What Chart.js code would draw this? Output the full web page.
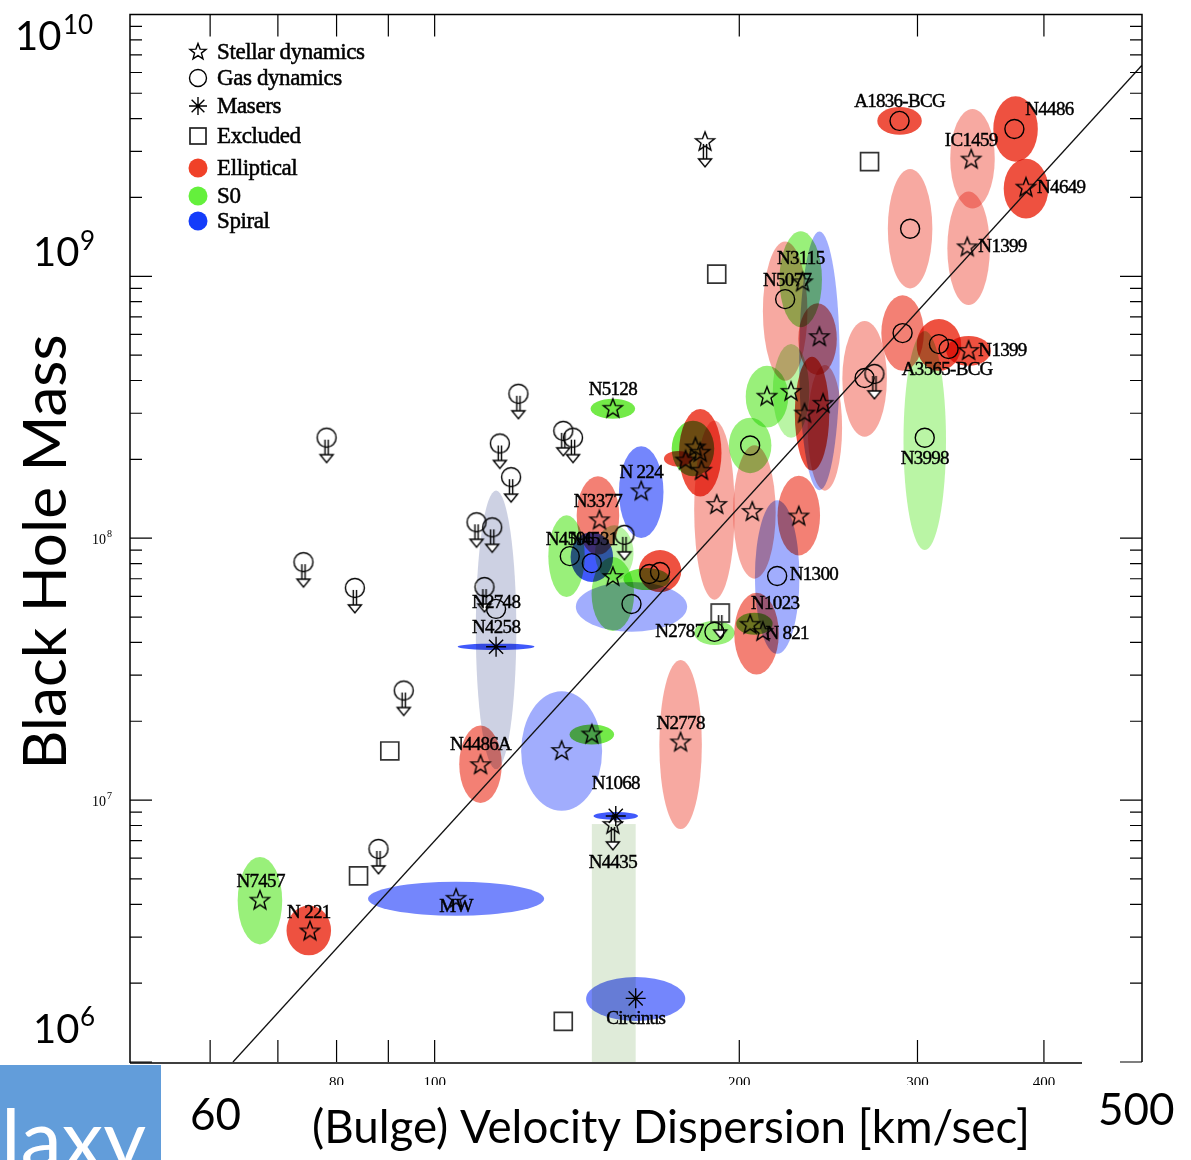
<!DOCTYPE html>
<html>
<head>
<meta charset="utf-8">
<script src="https://cdn.jsdelivr.net/npm/chart.js@4"></script>
<style>
  html, body { margin: 0; padding: 0; background: #fff; }
  #wrap { position: relative; width: 1191px; height: 1160px; }
</style>
</head>
<body>
<div id="wrap"><canvas id="chart"></canvas></div>
<script>
// Axis ranges and ticks
const sigmaRange = [50, 500];
const massRange = [1e6, 1e10];
const sigmaTicks = [60, 70, 80, 90, 100, 200, 300, 400];
const sigmaTickLabels = [80, 100, 200, 300, 400];
const massDecades = [1e6, 1e7, 1e8, 1e9, 1e10];

// M-sigma fit line (end points)
const fitSigma = [63.2, 500];
const fitMass = [1.0e6, 6.4e9];

// Error ellipses: [sigma, mass, half width (dex), half height (dex)]
const ellipticalErr = [
  [288, 3.92e9, .022, .053], [375, 3.65e9, .022, .125], [340, 2.81e9, .022, .19],
  [384, 2.16e9, .022, .114], [295, 1.52e9, .022, .228], [337, 1.28e9, .021, .217],
  [290, 6.07e8, .021, .144], [315, 5.47e8, .022, .099], [337, 5.19e8, .022, .057],
  [266, 4.06e8, .022, .221], [222, 7.36e8, .022, .266], [239, 5.76e8, .019, .137],
  [236, 2.99e8, .017, .217], [243, 2.64e8, .017, .24], [207, 1.26e8, .021, .255],
  [189, 1.28e8, .020, .342], [229, 1.22e8, .021, .152], [183, 2.12e8, .021, .167],
  [174, 2.01e8, .014, .030], [145, 1.22e8, .021, .15], [167, 7.49e7, .021, .080],
  [208, 4.32e7, .022, .156], [175, 1.63e7, .021, .323], [111, 1.37e7, .021, .148],
  [75.1, 3.18e6, .022, .095]
];
const ellipticalShade = ['S','S','L','S','L','L','M','S','S','L','L','M','S','L','L','L','M','S','S','M','S','M','L','M','S'];

const s0Err = [
  [305, 2.36e8, .021, .418], [230, 9.74e8, .021, .183], [225, 3.65e8, .018, .179],
  [213, 3.47e8, .021, .118], [205, 2.26e8, .021, .106], [180, 2.20e8, .021, .106],
  [150, 3.12e8, .022, .038], [135, 8.54e7, .018, .156], [150.5, 8.77e7, .019, .106],
  [150, 6.12e7, .021, .141], [162, 6.98e7, .023, .042], [189, 4.35e7, .020, .046],
  [207, 4.71e7, .018, .042], [143, 1.78e7, .022, .038], [67.2, 4.13e6, .022, .167]
];
const s0Shade = ['L','M','L','M','M','S','S','M','L','M','S','M','S','S','M'];

const spiralErr = [
  [240, 4.75e8, .020, .494], [218, 7.11e7, .022, .293], [160, 1.50e8, .022, .175],
  [143, 8.47e7, .021, .095], [156.5, 5.47e7, .055, .095], [115, 3.85e7, .038, .012],
  [133.5, 1.54e7, .040, .228], [151, 8.70e6, .022, .015], [158, 1.74e6, .049, .084],
  [105, 4.20e6, .087, .065]
];
const spiralShade = ['L','L','M','S','L','S','L','S','M','M'];

// N2748 (grey) error ellipse and N4435 range band
const greyErr = [[115, 4.47e7, .020, .532]];
const n4435Sigma = [143, 158];
const n4435Mass = [1e6, 8.1e6];

// Measurements
const starSigma = [339, 384, 336, 337, 240, 225, 213, 232, 242, 190, 206, 229, 181, 177, 183, 183.5,
  150, 160, 145.5, 150, 205, 211, 175, 133.5, 143, 111, 105, 67.2, 75.3, 231];
const starMass = [2.79e9, 2.18e9, 1.29e9, 5.19e8, 5.86e8, 3.62e8, 3.47e8, 2.99e8, 3.26e8, 1.34e8, 1.26e8,
  1.21e8, 2.22e8, 1.98e8, 2.12e8, 1.81e8, 3.12e8, 1.51e8, 1.17e8, 7.11e7, 4.67e7, 4.39e7, 1.66e7, 1.54e7,
  1.78e7, 1.36e7, 4.20e6, 4.13e6, 3.15e6, 9.49e8];
const starLimitSigma = [185, 150];
const starLimitMass = [3.26e9, 8.04e6];

const gasSigma = [288, 374, 295, 290, 315, 322, 305, 266, 222, 205, 218, 143, 136, 156.5, 167, 163, 189, 115];
const gasMass = [3.92e9, 3.65e9, 1.52e9, 6.07e8, 5.51e8, 5.28e8, 2.42e8, 4.09e8, 8.18e8, 2.26e8, 7.17e7,
  8.03e7, 8.54e7, 5.61e7, 7.43e7, 7.30e7, 4.39e7, 5.37e7];
const gasLimitSigma = [121, 78.2, 116, 119, 110, 114, 74.2, 83.4, 112, 134, 137, 154, 93.2, 88, 272];
const gasLimitMass = [3.56e8, 2.42e8, 2.30e8, 1.71e8, 1.15e8, 1.10e8, 8.10e7, 6.46e7, 6.51e7, 2.57e8,
  2.42e8, 1.03e8, 2.62e7, 6.51e6, 4.24e8];

const maserSigma = [115, 151, 158];
const maserMass = [3.85e7, 8.70e6, 1.75e6];

const excludedSigma = [269, 190, 90.3, 84.1, 134];
const excludedMass = [2.74e9, 1.02e9, 1.54e7, 5.14e6, 1.43e6];
const excludedLimitSigma = [191.5];
const excludedLimitMass = [5.18e7];

// Galaxy name labels
const labelNames = ['A1836-BCG', 'N4486', 'IC1459', 'N4649', 'N1399', 'N1399', 'A3565-BCG', 'N3998', 'N3115',
  'N5077', 'N5128', 'N 224', 'N3377', 'N4596', 'N4531', 'N2748', 'N4258', 'N1300', 'N1023', 'N 821', 'N2787',
  'N2778', 'N4486A', 'N1068', 'N4435', 'Circinus', 'MW', 'N7457', 'N 221'];
const labelSigma = [288, 405, 339, 416, 364, 364, 321, 305, 230, 223, 150, 160, 145, 136, 143.5, 115, 115,
  237, 217, 223, 174.5, 175, 111, 151, 150, 158, 105, 67.3, 75.1];
const labelMass = [4.63e9, 4.31e9, 3.29e9, 2.18e9, 1.29e9, 5.19e8, 4.39e8, 2.01e8, 1.16e9, 9.57e8, 3.69e8,
  1.78e8, 1.37e8, 9.83e7, 9.83e7, 5.66e7, 4.55e7, 7.23e7, 5.61e7, 4.32e7, 4.39e7, 1.96e7, 1.62e7, 1.15e7,
  5.76e6, 1.46e6, 3.92e6, 4.88e6, 3.72e6];

const legendLabels = ['Stellar dynamics', 'Gas dynamics', 'Masers', 'Excluded', 'Elliptical', 'S0', 'Spiral'];

// styling
const TYPE_RGB = { E: 'rgb(235,50,30)', S0: 'rgb(90,230,40)', S: 'rgb(30,60,250)' };
const SHADE_ALPHA = { L: 0.42, M: 0.62, S: 0.85 };
const SERIF = '"Liberation Serif", "DejaVu Serif", serif';
const SANS = 'Lato, "Open Sans", sans-serif';

const zip = (xs, ys) => xs.map((x, i) => ({ x, y: ys[i] }));

// marker drawing helpers
function starPath(g, cx, cy, R, r) {
  g.beginPath();
  for (let i = 0; i < 10; i++) {
    const a = -Math.PI / 2 + i * Math.PI / 5;
    const rad = i % 2 ? r : R;
    const px = cx + rad * Math.cos(a), py = cy + rad * Math.sin(a);
    i ? g.lineTo(px, py) : g.moveTo(px, py);
  }
  g.closePath();
}

function arrowBelow(g, cx, cy) {
  g.beginPath();
  g.moveTo(cx - 1.6, cy + 2); g.lineTo(cx - 1.6, cy + 17);
  g.moveTo(cx + 1.6, cy + 2); g.lineTo(cx + 1.6, cy + 17);
  g.stroke();
  g.beginPath();
  g.moveTo(cx - 6.5, cy + 17); g.lineTo(cx + 6.5, cy + 17); g.lineTo(cx, cy + 25); g.closePath();
  g.fillStyle = '#fff'; g.fill(); g.stroke();
}

function makeMarker(w, h, draw) {
  const c = document.createElement('canvas');
  c.width = w; c.height = h;
  const g = c.getContext('2d');
  g.strokeStyle = '#000'; g.lineWidth = 1.4; g.lineJoin = 'miter';
  draw(g, w / 2, h / 2);
  return c;
}

const starImg = makeMarker(26, 26, (g, cx, cy) => { starPath(g, cx, cy, 10, 4.2); g.stroke(); });
const starLimitImg = makeMarker(26, 58, (g, cx, cy) => { arrowBelow(g, cx, cy); starPath(g, cx, cy, 10, 4.2); g.stroke(); });
const gasLimitImg = makeMarker(26, 58, (g, cx, cy) => {
  arrowBelow(g, cx, cy);
  g.beginPath(); g.arc(cx, cy, 9.5, 0, Math.PI * 2); g.stroke();
});
const excludedLimitImg = makeMarker(26, 58, (g, cx, cy) => {
  arrowBelow(g, cx, cy);
  g.strokeStyle = '#333'; g.lineWidth = 1.7;
  g.strokeRect(cx - 9, cy - 9, 18, 18);
});

function drawEllipses(ctx, xs, ys, list, shades, color) {
  list.forEach((e, i) => {
    const [s, m, ds, dm] = e;
    const cx = xs.getPixelForValue(s), cy = ys.getPixelForValue(m);
    const rx = (xs.getPixelForValue(s * Math.pow(10, ds)) - xs.getPixelForValue(s / Math.pow(10, ds))) / 2;
    const ry = (ys.getPixelForValue(m / Math.pow(10, dm)) - ys.getPixelForValue(m * Math.pow(10, dm))) / 2;
    ctx.globalAlpha = shades ? SHADE_ALPHA[shades[i]] : 1;
    ctx.fillStyle = color;
    ctx.beginPath();
    ctx.ellipse(cx, cy, rx, ry, 0, 0, Math.PI * 2);
    ctx.fill();
  });
}

function fitSize(ctx, text, family, width) {
  ctx.font = '100px ' + family;
  return 100 * width / ctx.measureText(text).width;
}

// text with a thin outline so the serif type looks as heavy as the scanned figure
function heavyText(ctx, t, x, y) {
  ctx.fillText(t, x, y);
  ctx.strokeText(t, x, y);
}

const figurePlugin = {
  id: 'figure',
  beforeDraw(chart) {
    const ctx = chart.ctx;
    ctx.save();
    ctx.fillStyle = '#fff';
    ctx.fillRect(0, 0, chart.width, chart.height);
    ctx.restore();
  },
  beforeDatasetsDraw(chart) {
    const { ctx, chartArea: a } = chart;
    const xs = chart.scales.x, ys = chart.scales.y;
    ctx.save();
    ctx.beginPath(); ctx.rect(a.left, a.top, a.right - a.left, a.bottom - a.top); ctx.clip();
    // N4435 range band
    const bx0 = xs.getPixelForValue(n4435Sigma[0]), bx1 = xs.getPixelForValue(n4435Sigma[1]);
    const by0 = ys.getPixelForValue(n4435Mass[1]), by1 = ys.getPixelForValue(n4435Mass[0]);
    ctx.fillStyle = 'rgba(150,190,130,0.3)';
    ctx.fillRect(bx0, by0, bx1 - bx0, by1 - by0);
    ctx.globalCompositeOperation = 'multiply';
    drawEllipses(ctx, xs, ys, greyErr, null, 'rgba(130,140,185,0.4)');
    drawEllipses(ctx, xs, ys, ellipticalErr, ellipticalShade, TYPE_RGB.E);
    drawEllipses(ctx, xs, ys, s0Err, s0Shade, TYPE_RGB.S0);
    drawEllipses(ctx, xs, ys, spiralErr, spiralShade, TYPE_RGB.S);
    ctx.restore();
  },
  afterDatasetsDraw(chart) {
    const { ctx, chartArea: a } = chart;
    const xs = chart.scales.x, ys = chart.scales.y;
    ctx.save();

    // galaxy labels
    ctx.fillStyle = '#000';
    ctx.strokeStyle = '#000';
    ctx.lineWidth = 0.45;
    ctx.font = '19px ' + SERIF;
    ctx.letterSpacing = '-0.7px';
    ctx.textAlign = 'center';
    ctx.textBaseline = 'middle';
    labelNames.forEach((t, i) => {
      heavyText(ctx, t, xs.getPixelForValue(labelSigma[i]), ys.getPixelForValue(labelMass[i]));
    });
    ctx.letterSpacing = '0px';

    // frame
    ctx.strokeStyle = '#000';
    ctx.lineWidth = 1.5;
    ctx.beginPath();
    ctx.moveTo(a.left, a.bottom + 1); ctx.lineTo(a.left, a.top); ctx.lineTo(a.right, a.top); ctx.lineTo(a.right, a.bottom);
    ctx.moveTo(a.left, a.bottom + 1); ctx.lineTo(1082, a.bottom + 1);
    ctx.stroke();

    // ticks
    ctx.lineWidth = 1.2;
    ctx.beginPath();
    sigmaTicks.forEach(v => {
      const x = xs.getPixelForValue(v);
      ctx.moveTo(x, a.top); ctx.lineTo(x, a.top + 22);
      ctx.moveTo(x, a.bottom); ctx.lineTo(x, a.bottom - 22);
    });
    massDecades.slice(0, -1).forEach(d => {
      for (let k = 1; k < 10; k++) {
        const y = ys.getPixelForValue(k * d);
        const len = k === 1 ? 22 : 12;
        ctx.moveTo(a.left, y); ctx.lineTo(a.left + len, y);
        ctx.moveTo(a.right, y); ctx.lineTo(a.right - len, y);
      }
    });
    ctx.stroke();

    // original figure tick labels (lower half hidden by the slide)
    ctx.save();
    ctx.beginPath(); ctx.rect(0, 0, chart.width, 1085); ctx.clip();
    ctx.font = '15px ' + SERIF;
    ctx.textAlign = 'center';
    ctx.textBaseline = 'top';
    sigmaTickLabels.forEach(v => ctx.fillText(String(v), xs.getPixelForValue(v), 1076));
    ctx.restore();
    ctx.textAlign = 'left';
    ctx.textBaseline = 'alphabetic';
    [[1e8, '8'], [1e7, '7']].forEach(([v, e]) => {
      const y = ys.getPixelForValue(v);
      ctx.font = '14px ' + SERIF; ctx.fillText('10', 92, y + 6);
      ctx.font = '10px ' + SERIF; ctx.fillText(e, 107, y - 1);
    });

    // legend
    const lx = 198, ty = [52, 78, 106, 136, 168, 196, 221];
    ctx.strokeStyle = '#000'; ctx.lineWidth = 1.4;
    starPath(ctx, lx, ty[0], 8.5, 3.6); ctx.stroke();
    ctx.beginPath(); ctx.arc(lx, ty[1], 8.5, 0, Math.PI * 2); ctx.stroke();
    ctx.beginPath();
    for (let k = 0; k < 4; k++) {
      const ang = k * Math.PI / 4;
      ctx.moveTo(lx - 9 * Math.cos(ang), ty[2] - 9 * Math.sin(ang));
      ctx.lineTo(lx + 9 * Math.cos(ang), ty[2] + 9 * Math.sin(ang));
    }
    ctx.stroke();
    ctx.strokeStyle = '#222'; ctx.lineWidth = 1.7;
    ctx.strokeRect(lx - 8, ty[3] - 8, 16, 16);
    [['rgb(240,65,40)', 4], ['rgb(100,240,60)', 5], ['rgb(20,60,250)', 6]].forEach(([c, i]) => {
      ctx.fillStyle = c;
      ctx.beginPath(); ctx.arc(lx, ty[i], 9.5, 0, Math.PI * 2); ctx.fill();
    });
    ctx.fillStyle = '#000';
    ctx.strokeStyle = '#000';
    ctx.lineWidth = 0.5;
    ctx.font = '23px ' + SERIF;
    ctx.letterSpacing = '-0.4px';
    ctx.textBaseline = 'middle';
    legendLabels.forEach((t, i) => heavyText(ctx, t, 217, ty[i] + 1));
    ctx.letterSpacing = '0px';

    // slide overlay texts
    ctx.textBaseline = 'alphabetic';
    ctx.textAlign = 'left';
    ctx.fillStyle = '#000';
    const big = (t, x, y, size) => { ctx.font = size + 'px ' + SANS; ctx.fillText(t, x, y); };
    big('10', 15, 50, 40); big('10', 63, 34, 26);
    big('10', 33, 266, 40); big('9', 80, 250, 26);
    big('10', 33, 1043, 40); big('6', 80, 1026, 26);
    big('60', 190, 1130, 44);
    big('500', 1098, 1125, 44);

    const title = '(Bulge) Velocity Dispersion [km/sec]';
    ctx.textAlign = 'center';
    big(title, 671, 1143, fitSize(ctx, title, SANS, 718));

    const ytitle = 'Black Hole Mass';
    const ys2 = fitSize(ctx, ytitle, SANS, 435);
    ctx.save();
    ctx.translate(66, 552);
    ctx.rotate(-Math.PI / 2);
    big(ytitle, 0, 0, ys2);
    ctx.restore();

    // blue box with clipped "Galaxy"
    ctx.fillStyle = 'rgb(98,157,218)';
    ctx.fillRect(0, 1065, 161, 95);
    ctx.save();
    ctx.beginPath(); ctx.rect(0, 1065, 161, 95); ctx.clip();
    const gs = fitSize(ctx, 'laxy', SANS, 145);
    ctx.fillStyle = '#fff';
    ctx.textAlign = 'right';
    big('Galaxy', 146, 1127 + gs * 0.51, gs);
    ctx.restore();

    ctx.restore();
  }
};

const markerBase = { showLine: false, pointBorderColor: '#000', pointBackgroundColor: 'rgba(0,0,0,0)', pointBorderWidth: 1.4, pointRadius: 10 };

new Chart(document.getElementById('chart'), {
  type: 'scatter',
  data: {
    datasets: [
      { ...markerBase, label: 'Stellar dynamics', data: zip(starSigma, starMass), pointStyle: starImg },
      { ...markerBase, label: 'Stellar limits', data: zip(starLimitSigma, starLimitMass), pointStyle: starLimitImg },
      { ...markerBase, label: 'Gas dynamics', data: zip(gasSigma, gasMass), pointStyle: 'circle', pointRadius: 9.5 },
      { ...markerBase, label: 'Gas limits', data: zip(gasLimitSigma, gasLimitMass), pointStyle: gasLimitImg },
      { ...markerBase, label: 'Masers', data: zip(maserSigma, maserMass), pointStyle: 'star', pointRadius: 10 },
      { ...markerBase, label: 'Excluded', data: zip(excludedSigma, excludedMass), pointStyle: 'rect', pointRadius: 12.7,
        pointBorderColor: '#333', pointBorderWidth: 1.7 },
      { ...markerBase, label: 'Excluded limit', data: zip(excludedLimitSigma, excludedLimitMass), pointStyle: excludedLimitImg },
      { type: 'line', label: 'fit', data: zip(fitSigma, fitMass), borderColor: '#111', borderWidth: 1.3,
        pointRadius: 0, fill: false, order: 10 }
    ]
  },
  options: {
    responsive: true,
    maintainAspectRatio: false,
    animation: false,
    events: [],
    layout: { padding: { left: 130, right: 49, top: 12, bottom: 98 } },
    plugins: { legend: { display: false }, tooltip: { enabled: false } },
    scales: {
      x: { type: 'logarithmic', min: sigmaRange[0], max: sigmaRange[1], display: false },
      y: { type: 'logarithmic', min: massRange[0], max: massRange[1], display: false }
    }
  },
  plugins: [figurePlugin]
});
</script>
</body>
</html>
